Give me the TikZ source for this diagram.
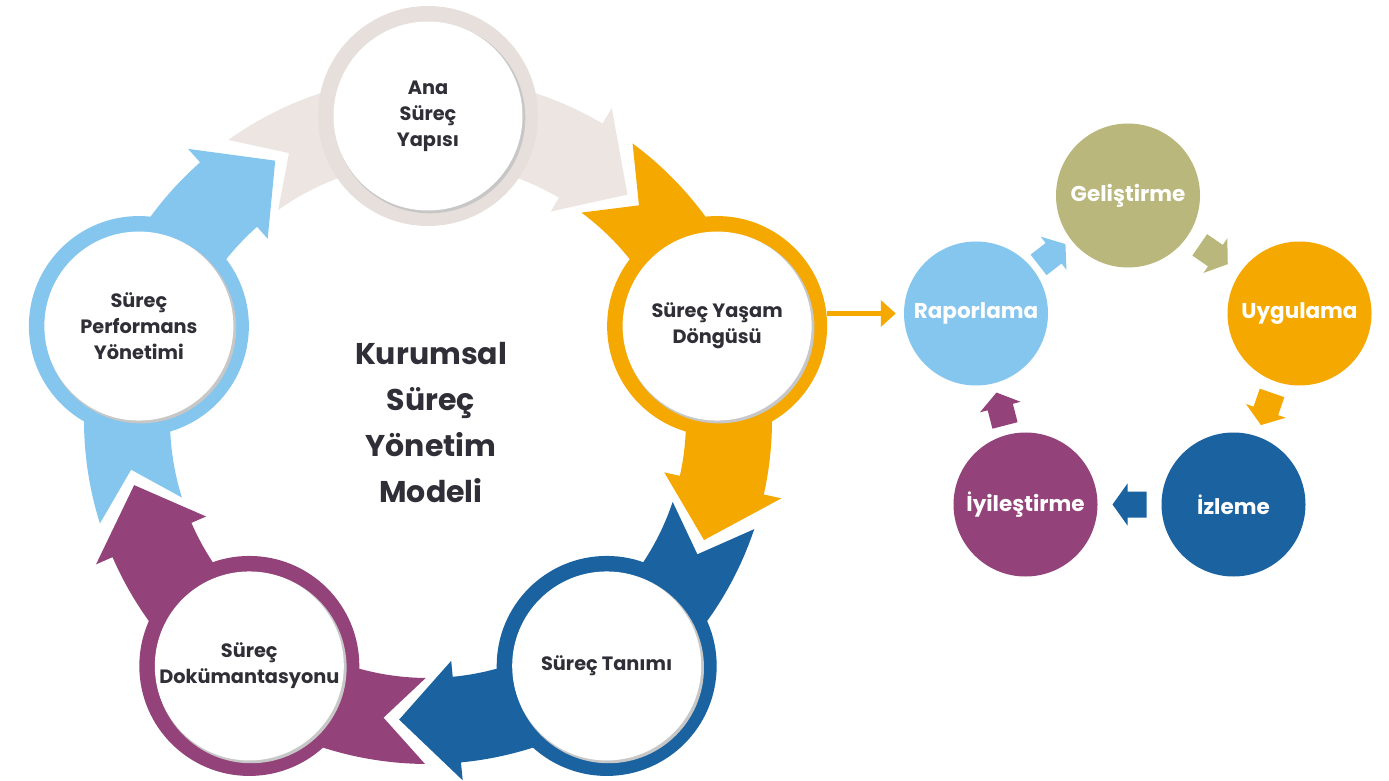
\documentclass[tikz,border=0pt]{standalone}
\usepackage{fontspec}
\setmainfont{Poppins}
\usetikzlibrary{calc,arrows.meta}
\definecolor{beige}{HTML}{ECE5E1}
\definecolor{beigering}{HTML}{E7DFDB}
\definecolor{orng}{HTML}{F5A800}
\definecolor{dblue}{HTML}{1A63A0}
\definecolor{purp}{HTML}{93437A}
\definecolor{lblue}{HTML}{84C6EE}
\definecolor{olive}{HTML}{B9B77C}
\definecolor{txt}{HTML}{302F37}
\begin{document}
\begin{tikzpicture}[x=1pt,y=1pt,
  ring/.style={circle, fill=#1, minimum size=220, inner sep=0, text=txt,
    font=\bfseries\fontsize{19.3}{26}\selectfont, align=center,
    path picture={\fill[black!22] ([shift={(1.8,-1.8)}]path picture bounding box.center) circle (95.5);
                  \fill[white] (path picture bounding box.center) circle (94.5);}},
  dot/.style={circle, fill=#1, minimum size=144, inner sep=0, text=white,
    font=\bfseries\fontsize{21.5}{25}\selectfont},
  title/.style={text=txt, font=\bfseries\fontsize{30}{46}\selectfont, align=center}
]
\useasboundingbox (0,0) rectangle (1389,780);
\fill[white] (0,0) rectangle (1389,780);
\coordinate (C) at (428,360);
\def\Ri{258}\def\Ro{344}\def\Hi{242}\def\Ho{362}\def\Rm{301}
\foreach \t/\c in {90/beige, 18/orng, -54/dblue, -126/purp, 162/lblue}{
  \fill[\c] ($(C)+(\t+35.5:\Ro)$) arc[start angle=\t+35.5, end angle=\t-30.5, radius=\Ro]
    -- ($(C)+(\t-30.5:\Ho)$) -- ($(C)+(\t-41.5:\Rm)$) -- ($(C)+(\t-30.5:\Hi)$)
    -- ($(C)+(\t-30.5:\Ri)$) arc[start angle=\t-30.5, end angle=\t+35.5, radius=\Ri]
    -- ($(C)+(\t+27.5:\Rm)$) -- cycle;
}
\node[ring=beigering] (ana) at ($(C)+(90:304)$) {Ana\\Süreç\\Yapısı};
\node[ring=orng] (yasam) at ($(C)+(18:304)$) {Süreç Yaşam\\Döngüsü};
\node[ring=dblue] (tanim) at ($(C)+(-54:304)$) {Süreç Tanımı};
\node[ring=purp] (dok) at ($(C)+(-126:304)$) {Süreç\\Dokümantasyonu};
\node[ring=lblue] (perf) at ($(C)+(162:304)$) {Süreç\\Performans\\Yönetimi};
\node[title] (baslik) at (431,357) {Kurumsal\\Süreç\\Yönetim\\Modeli};

\node[dot=lblue] (rap) at (976,466.5) {Raporlama};
\node[dot=olive] (gel) at (1128,584.5) {Geliştirme};
\node[dot=orng] (uyg) at (1299.5,466.5) {Uygulama};
\node[dot=dblue] (izl) at (1233.5,275.5) {İzleme};
\node[dot=purp] (iyi) at (1025.5,275.5) {İyileştirme};

\foreach \a/\b/\c in {rap/gel/lblue, gel/uyg/olive, uyg/izl/orng, izl/iyi/dblue, iyi/rap/purp}{
  \pgfmathanglebetweenpoints{\pgfpointanchor{\a}{center}}{\pgfpointanchor{\b}{center}}
  \let\ang\pgfmathresult
  \begin{scope}[shift={($(\a)!0.5!(\b)$)}, rotate=\ang]
    \fill[\c] (-17,-13) -- (2,-13) -- (2,-21) -- (17,0) -- (2,21) -- (2,13) -- (-17,13) -- cycle;
  \end{scope}
}
\draw[orng, line width=5pt, -{Triangle[length=15pt, width=26pt]}] (yasam.east |- rap.west) -- ($(rap.west)+(-8,0)$);
\end{tikzpicture}
\end{document}
